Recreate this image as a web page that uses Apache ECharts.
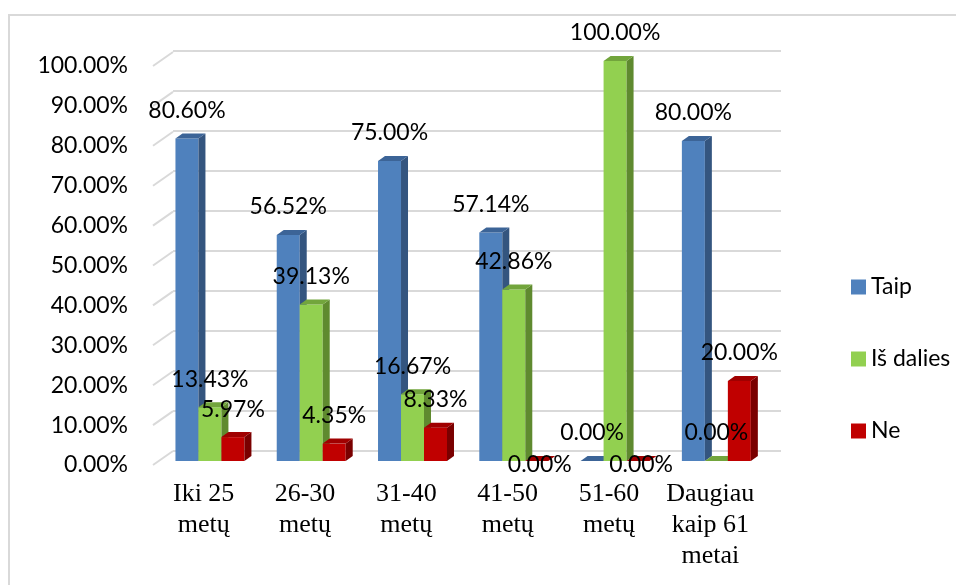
<!DOCTYPE html>
<html>
<head>
<meta charset="utf-8">
<script src="https://cdn.jsdelivr.net/npm/echarts/dist/echarts.min.js"></script>
<style>
  html, body { margin: 0; padding: 0; background: #fff; }
  #chart { width: 956px; height: 585px; }
</style>
</head>
<body>
<div id="chart"></div>
<script>
// Age groups and answer shares (percent)
const categories = ['Iki 25\nmetų', '26-30\nmetų', '31-40\nmetų', '41-50\nmetų', '51-60\nmetų', 'Daugiau\nkaip 61\nmetai'];
const seriesNames = ['Taip', 'Iš dalies', 'Ne'];
const taip = [80.60, 56.52, 75.00, 57.14, 0.00, 80.00];
const isDalies = [13.43, 39.13, 16.67, 42.86, 100.00, 0.00];
const ne = [5.97, 4.35, 8.33, 0.00, 0.00, 20.00];
const yTicks = [0, 10, 20, 30, 40, 50, 60, 70, 80, 90, 100];

const seriesValues = [taip, isDalies, ne];

// face colours for the extruded bars: front, side, top
const faces = [
  { front: '#4F81BD', side: '#34557F', top: '#3C6497' },
  { front: '#92D050', side: '#5F8A2F', top: '#72A53C' },
  { front: '#C00000', side: '#7A0000', top: '#A00000' }
];

const DX = 7, DY = 5;             // bar depth
const WALL_DX = 20, WALL_DY = 14; // back wall offset from the front axis
const GRID_COLOR = '#D9D9D9';
const LABEL_FONT = '23px Lato';
const SERIF = '"Liberation Serif", "DejaVu Serif", serif';

function barRenderer(k) {
  const c = faces[k];
  return function (params, api) {
    const ci = api.value(0);
    const v = api.value(1);
    const base = api.coord([ci, 0]);
    const topPt = api.coord([ci, v]);
    const band = api.size([1, 0])[0];
    const w = band * 0.227;
    const x0 = base[0] + (k - 1.5) * w;
    const x1 = x0 + w;
    const yb = base[1];
    const yt = topPt[1];
    const children = [];
    if (v > 0) {
      children.push({ type: 'rect', shape: { x: x0, y: yt, width: w, height: yb - yt }, style: { fill: c.front } });
      children.push({ type: 'polygon', shape: { points: [[x1, yb], [x1 + DX, yb - DY], [x1 + DX, yt - DY], [x1, yt]] }, style: { fill: c.side } });
    }
    children.push({ type: 'polygon', shape: { points: [[x0, yt], [x0 + DX, yt - DY], [x1 + DX, yt - DY], [x1, yt]] }, style: { fill: c.top } });

    // value label: above the bar; empty bars of the last series put it just under the floor
    const below = (k === seriesValues.length - 1 && v === 0);
    const ly = below ? yt + 4 : yt - 28;
    children.push({
      type: 'text',
      z2: 100,
      x: (x0 + x1) / 2 + (below ? 3 : 0),
      y: ly,
      style: {
        text: v.toFixed(2) + '%',
        fill: '#000',
        font: LABEL_FONT,
        align: 'center',
        verticalAlign: 'middle',
        textAlign: 'center',
        textVerticalAlign: 'middle'
      }
    });
    return { type: 'group', children: children };
  };
}

const chart = echarts.init(document.getElementById('chart'), null, { renderer: 'canvas' });

const series = seriesNames.map(function (name, k) {
  return {
    name: name,
    type: 'custom',
    xAxisIndex: 1,
    yAxisIndex: 1,
    renderItem: barRenderer(k),
    itemStyle: { color: faces[k].front },
    encode: { x: 0, y: 1 },
    data: seriesValues[k].map(function (v, i) { return [i, v]; }),
    z: 3
  };
});

// slanted ticks joining the front axis to the back wall gridlines
series.push({
  type: 'custom',
  xAxisIndex: 2,
  yAxisIndex: 2,
  silent: true,
  renderItem: function (params, api) {
    const p = api.coord([0, api.value(0)]);
    const x = params.coordSys.x;
    return {
      type: 'line',
      shape: { x1: x, y1: p[1], x2: x + WALL_DX, y2: p[1] - WALL_DY },
      style: { stroke: GRID_COLOR, lineWidth: 2 }
    };
  },
  encode: { y: 0 },
  data: yTicks.map(function (t) { return [t]; }),
  z: 1
});

const option = {
  animation: false,
  backgroundColor: '#fff',
  graphic: [{
    type: 'rect',
    shape: { x: 9, y: 15, width: 1000, height: 700 },
    style: { fill: 'none', stroke: GRID_COLOR, lineWidth: 2 },
    silent: true
  }],
  legend: {
    data: seriesNames,
    orient: 'vertical',
    left: 846,
    top: 270,
    icon: 'rect',
    itemWidth: 15,
    itemHeight: 15,
    itemGap: 48,
    textStyle: { fontFamily: 'Lato', fontSize: 23, color: '#000', lineHeight: 24 }
  },
  grid: [
    { left: 173, right: 175, top: 51, bottom: 134 },   // back wall
    { left: 159.3, right: 189, top: 61, bottom: 124 }, // bars
    { left: 153, right: 195, top: 66, bottom: 120 }    // front axis
  ],
  xAxis: [
    { gridIndex: 0, type: 'category', data: categories, show: false },
    { gridIndex: 1, type: 'category', data: categories, show: false },
    {
      gridIndex: 2, type: 'category', data: categories,
      axisLine: { show: false }, axisTick: { show: false },
      axisLabel: {
        margin: 14, interval: 0,
        fontFamily: SERIF, fontSize: 26, lineHeight: 31, color: '#000'
      }
    }
  ],
  yAxis: [
    {
      gridIndex: 0, type: 'value', min: 0, max: 100, interval: 10,
      axisLine: { show: false }, axisTick: { show: false }, axisLabel: { show: false },
      splitLine: { lineStyle: { color: GRID_COLOR, width: 2 } }
    },
    { gridIndex: 1, type: 'value', min: 0, max: 100, interval: 10, show: false, splitLine: { show: false } },
    {
      gridIndex: 2, type: 'value', min: 0, max: 100, interval: 10,
      axisLine: { show: false }, axisTick: { show: false }, splitLine: { show: false },
      axisLabel: {
        margin: 25, fontFamily: 'Lato', fontSize: 23, color: '#000',
        formatter: function (v) { return v.toFixed(2) + '%'; }
      }
    }
  ],
  series: series
};

chart.setOption(option);
</script>
</body>
</html>
